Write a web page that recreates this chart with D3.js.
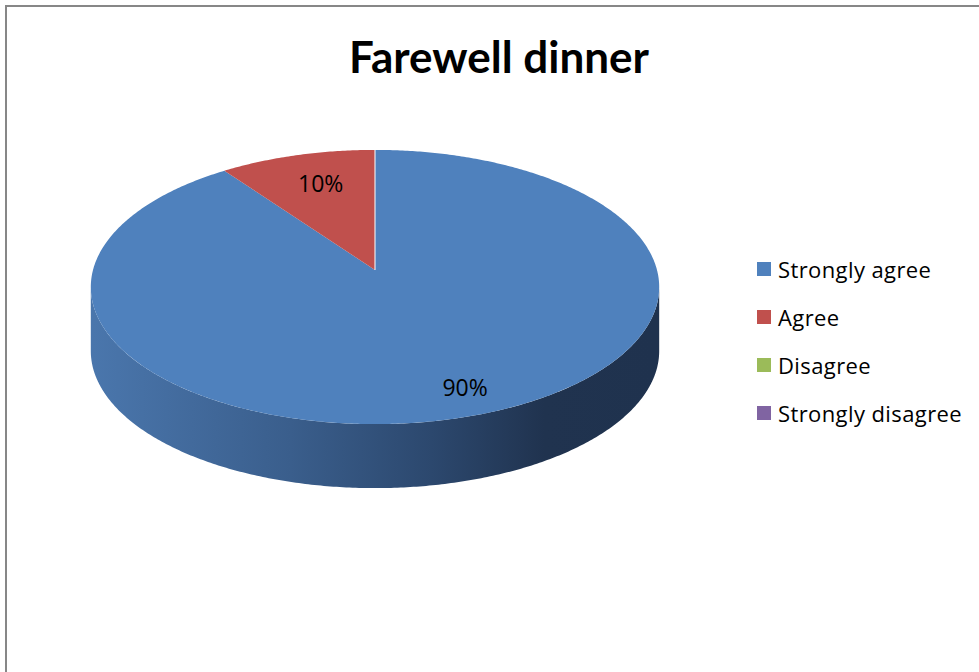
<!DOCTYPE html>
<html>
<head>
<meta charset="utf-8">
<script src="https://cdn.jsdelivr.net/npm/d3@7"></script>
<style>
  html, body { margin: 0; padding: 0; background: #ffffff; }
  svg { display: block; }
  text { fill: #000; }
</style>
</head>
<body>
<svg id="chart" width="979" height="672"></svg>
<script>
// Survey answers for "Farewell dinner"
const title = "Farewell dinner";
const categories = ["Strongly agree", "Agree", "Disagree", "Strongly disagree"];
const values = [90, 10, 0, 0];
const colors = ["#4f81bd", "#c0504d", "#9bbb59", "#8064a2"];

const W = 979, H = 672;
const bodyFont = "'Open Sans', Lato, sans-serif";
const svg = d3.select("#chart");

// Chart frame (runs off the right and bottom edges)
svg.append("rect")
  .attr("x", 6).attr("y", 6).attr("width", 1000).attr("height", 700)
  .attr("fill", "#fff").attr("stroke", "#878787").attr("stroke-width", 2);

svg.append("text")
  .attr("x", 499).attr("y", 73)
  .attr("text-anchor", "middle")
  .style("font-family", "Lato, sans-serif")
  .style("font-size", "44px").style("font-weight", 700)
  .text(title);

// Tilted disc: perspective projection of a unit circle onto the page.
const cx = 375, cy = 270;      // projected centre of the top face
const A = 282, B = 135, k = 0.124; // horizontal / vertical radius, depth foreshortening
const depth = 64;              // thickness of the pie

function proj(r, a, dy = 0) {
  const u = r * Math.sin(a), v = r * Math.cos(a);
  const d = 1 + k * v;
  return [cx + A * u / d, cy - B * v / d + dy];
}

const total = d3.sum(values);
const pie = d3.pie().sort(null).value(d => d);
const arcs = pie(values).filter(d => d.value > 0);

const line = d3.line();
const steps = a0 => a1 => d3.range(0, 1.0001, 1 / Math.max(2, Math.ceil((a1 - a0) / 0.01))).map(t => a0 + (a1 - a0) * t);

// Side wall gradient
const defs = svg.append("defs");
const grad = defs.append("linearGradient").attr("id", "side")
  .attr("gradientUnits", "userSpaceOnUse")
  .attr("x1", cx - A).attr("x2", cx + A).attr("y1", 0).attr("y2", 0);
[[0, "rgb(74,118,172)"], [0.35, "rgb(58,94,140)"], [0.6, "rgb(44,72,110)"], [0.8, "rgb(32,51,79)"], [1, "rgb(31,50,78)"]]
  .forEach(([o, c]) => grad.append("stop").attr("offset", o).attr("stop-color", c));

// Visible part of the rim lies between the two silhouette angles
const sil0 = Math.acos(-k), sil1 = 2 * Math.PI - Math.acos(-k);
arcs.forEach(d => {
  const a0 = Math.max(d.startAngle, sil0), a1 = Math.min(d.endAngle, sil1);
  if (a1 <= a0) return;
  const angs = steps(a0)(a1);
  const pts = angs.map(a => proj(1, a)).concat(angs.slice().reverse().map(a => proj(1, a, depth)));
  svg.append("path")
    .attr("d", line(pts) + "Z")
    .attr("fill", d.index === 0 ? "url(#side)" : d3.color(colors[d.index]).darker(1));
});

// Top faces
arcs.forEach(d => {
  const angs = steps(d.startAngle)(d.endAngle);
  const pts = [proj(0, 0)].concat(angs.map(a => proj(1, a)));
  svg.append("path")
    .attr("d", line(pts) + "Z")
    .attr("fill", colors[d.index]);
});

// Light edge where the first slice begins
svg.append("path")
  .attr("d", line([proj(0, 0), proj(1, 0)]))
  .attr("stroke", "rgba(255,255,255,0.85)").attr("stroke-width", 1.2).attr("fill", "none");

// Percentage labels (radius fraction and sideways nudge per slice)
const fmt = d3.format(".0%");
const labelR = [0.82, 0.74], labelDx = [11, 5];
arcs.forEach(d => {
  const mid = (d.startAngle + d.endAngle) / 2;
  const [x, y] = proj(labelR[d.index], mid);
  svg.append("text")
    .attr("x", x + labelDx[d.index]).attr("y", y)
    .attr("text-anchor", "middle").attr("dominant-baseline", "central")
    .style("font-family", bodyFont).style("font-size", "23px")
    .text(fmt(d.value / total));
});

// Legend
const ly = d3.scalePoint().domain(categories).range([269, 413]);
const legend = svg.append("g");
categories.forEach((c, i) => {
  legend.append("rect")
    .attr("x", 757).attr("y", ly(c) - 7).attr("width", 14).attr("height", 14)
    .attr("fill", colors[i]);
  legend.append("text")
    .attr("x", 778).attr("y", ly(c))
    .attr("dominant-baseline", "central")
    .style("font-family", bodyFont).style("font-size", "22px")
    .style("letter-spacing", "0.4px")
    .text(c);
});
</script>
</body>
</html>
